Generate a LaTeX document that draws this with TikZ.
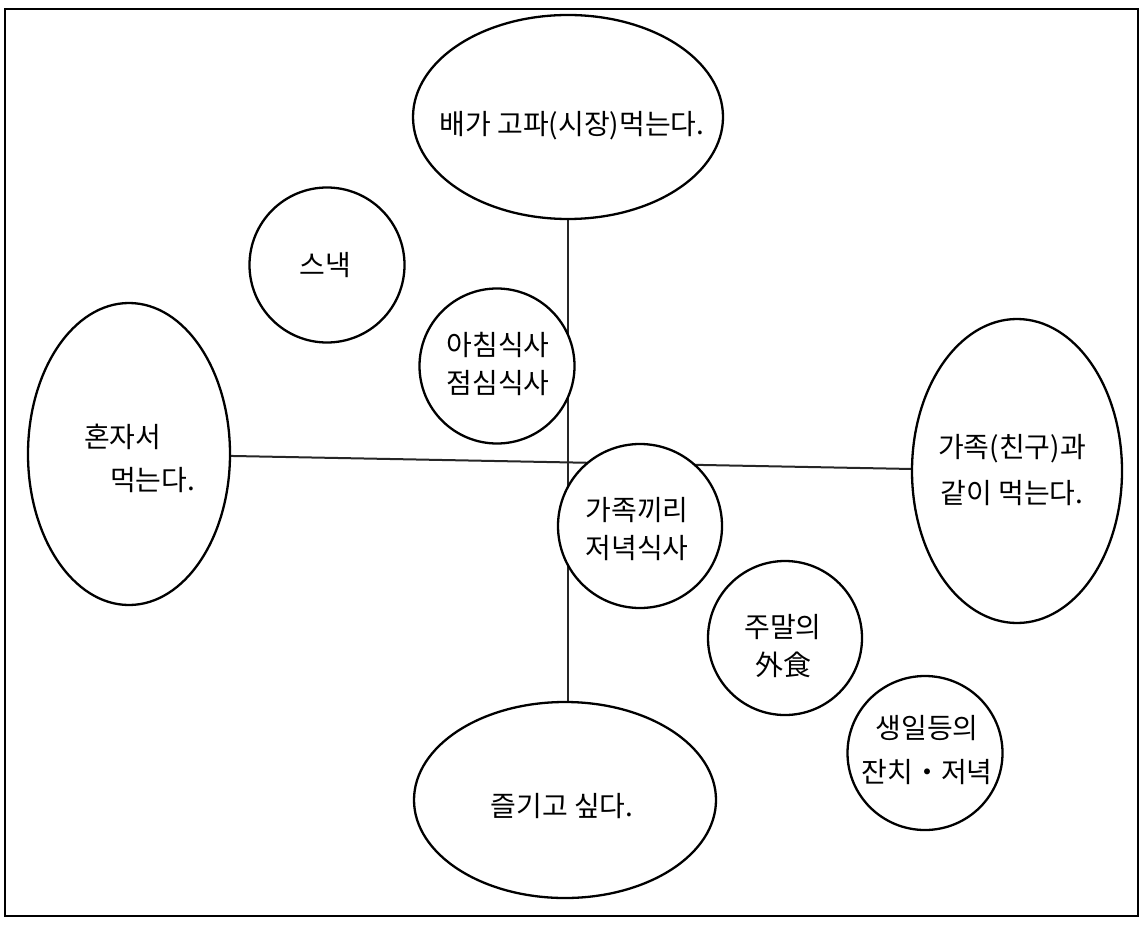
\documentclass[tikz,border=0pt]{standalone}
\usepackage{fontspec}
\newfontfamily\kr{Noto Sans CJK KR}
\usetikzlibrary{shapes.geometric,backgrounds}
\tikzset{
  bubble/.style={draw=black, line width=2.3pt, fill=white, ellipse, inner sep=0pt},
  lbl/.style={font=\kr\fontsize{28}{38}\selectfont, align=center, inner sep=0pt, text=black},
  axis/.style={draw=black!85, line width=2pt},
}
\begin{document}
\begin{tikzpicture}[x=1pt,y=-1pt]
\useasboundingbox (0,0) rectangle (1147,925);
% bubbles
\node[bubble, minimum width=310pt, minimum height=204pt] (hungry) at (568,117) {};
\node[bubble, minimum width=155pt, minimum height=155pt] (snack) at (327,265) {};
\node[bubble, minimum width=155pt, minimum height=155pt] (meal) at (497,366) {};
\node[bubble, minimum width=202pt, minimum height=302pt] (alone) at (129,454) {};
\node[bubble, minimum width=164pt, minimum height=164pt] (dinner) at (640,526) {};
\node[bubble, minimum width=210pt, minimum height=304pt] (together) at (1017,471) {};
\node[bubble, minimum width=154pt, minimum height=154pt] (weekend) at (785,638) {};
\node[bubble, minimum width=155pt, minimum height=154pt] (party) at (925,753) {};
\node[bubble, minimum width=302pt, minimum height=196pt] (enjoy) at (565,800) {};
% labels
\node[lbl] (thungry) at (572,126) {배가 고파(시장)먹는다.};
\node[lbl] (tsnack) at (325,265) {스낵};
\node[lbl] (tmeal) at (498,364) {아침식사\\점심식사};
\node[lbl, align=left, font=\kr\fontsize{28}{43}\selectfont, anchor=west] (talone) at (84,458) {혼자서\\\hspace*{26pt}먹는다.};
\node[lbl] (tdinner) at (637,529) {가족끼리\\저녁식사};
\node[lbl, font=\kr\fontsize{28}{46}\selectfont] (ttogether) at (1012,470) {가족(친구)과\\같이 먹는다.};
\node[lbl] (tweekend) at (783,646) {주말의\\外食};
\node[lbl, font=\kr\fontsize{28}{44}\selectfont] (tparty) at (927,750) {생일등의\\잔치・저녁};
\node[lbl] (tenjoy) at (562,806) {즐기고 싶다.};
% axes and frame behind
\begin{scope}[on background layer]
\fill[white] (0,0) rectangle (1147,925);
\draw[black, line width=2.6pt] (5,9) rectangle (1138,916);
\draw[axis] (hungry.south) -- (hungry.south |- enjoy.north);
\draw[axis] (alone) -- (together);
\end{scope}
\end{tikzpicture}
\end{document}
